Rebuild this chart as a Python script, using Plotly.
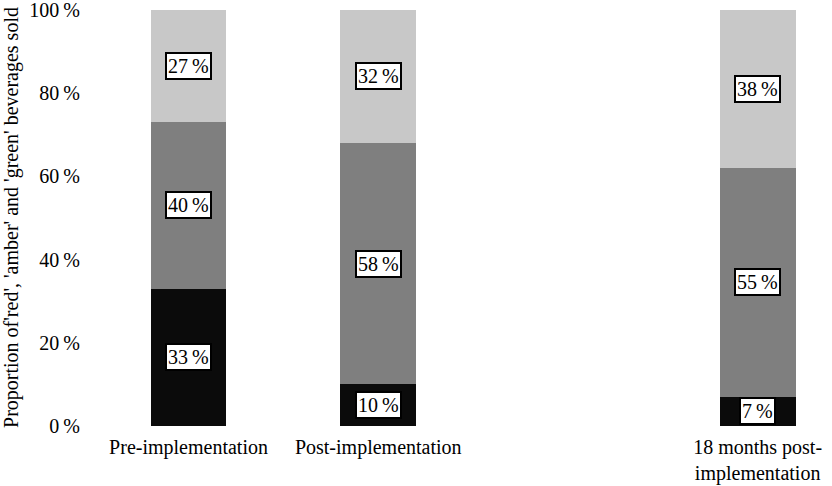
import plotly.graph_objects as go

categories = ["Pre-implementation", "Post-implementation", " ", "18 months post-<br>implementation"]
bar_categories = ["Pre-implementation", "Post-implementation", "18 months post-<br>implementation"]
red = [33, 10, 7]
amber = [40, 58, 55]
green = [27, 32, 38]
series = [("red", red, "#0b0b0b"), ("amber", amber, "#7f7f7f"), ("green", green, "#c8c8c8")]
y_ticks = [0, 20, 40, 60, 80, 100]
y_tick_labels = ["0\u2009%", "20\u2009%", "40\u2009%", "60\u2009%", "80\u2009%", "100\u2009%"]

FONT = "Liberation Serif"

fig = go.Figure()
for name, vals, col in series:
    fig.add_trace(go.Bar(x=bar_categories, y=vals, name=name, marker=dict(color=col, line=dict(width=0)),
                         width=0.4, showlegend=False))

annotations = []
for i, cat in enumerate(bar_categories):
    base = 0
    for name, vals, col in series:
        v = vals[i]
        annotations.append(dict(x=cat, y=base + v / 2, xref="x", yref="y", text=f"{v}\u2009%",
                                showarrow=False, font=dict(family=FONT, size=20, color="black"),
                                bgcolor="white", bordercolor="black", borderwidth=2, borderpad=1))
        base += v

fig.update_layout(
    barmode="stack",
    width=832, height=486,
    margin=dict(l=88, r=0, t=9, b=60),
    paper_bgcolor="white", plot_bgcolor="white",
    font=dict(family=FONT, size=20, color="black"),
    annotations=annotations,
    xaxis=dict(type="category", categoryorder="array", categoryarray=categories,
               range=[-0.53, 3.392], showgrid=False, showline=False, zeroline=False,
               ticks="outside", ticklen=3, tickcolor="white",
               tickfont=dict(family=FONT, size=20, color="black")),
    yaxis=dict(range=[0, 100.2], tickmode="array", tickvals=y_ticks, ticktext=y_tick_labels,
               showgrid=False, showline=False, ticklabeloverflow="allow",
               zeroline=False, ticks="outside", ticklen=3, tickcolor="white",
               tickfont=dict(family=FONT, size=20, color="black"),
               title=dict(text="Proportion of'red', 'amber' and 'green' beverages sold",
                          font=dict(family=FONT, size=20, color="black"), standoff=14)),
)

fig.write_html("out.html", config={"displayModeBar": False},
               post_script="document.body.style.margin='0';document.body.style.overflow='hidden';")
